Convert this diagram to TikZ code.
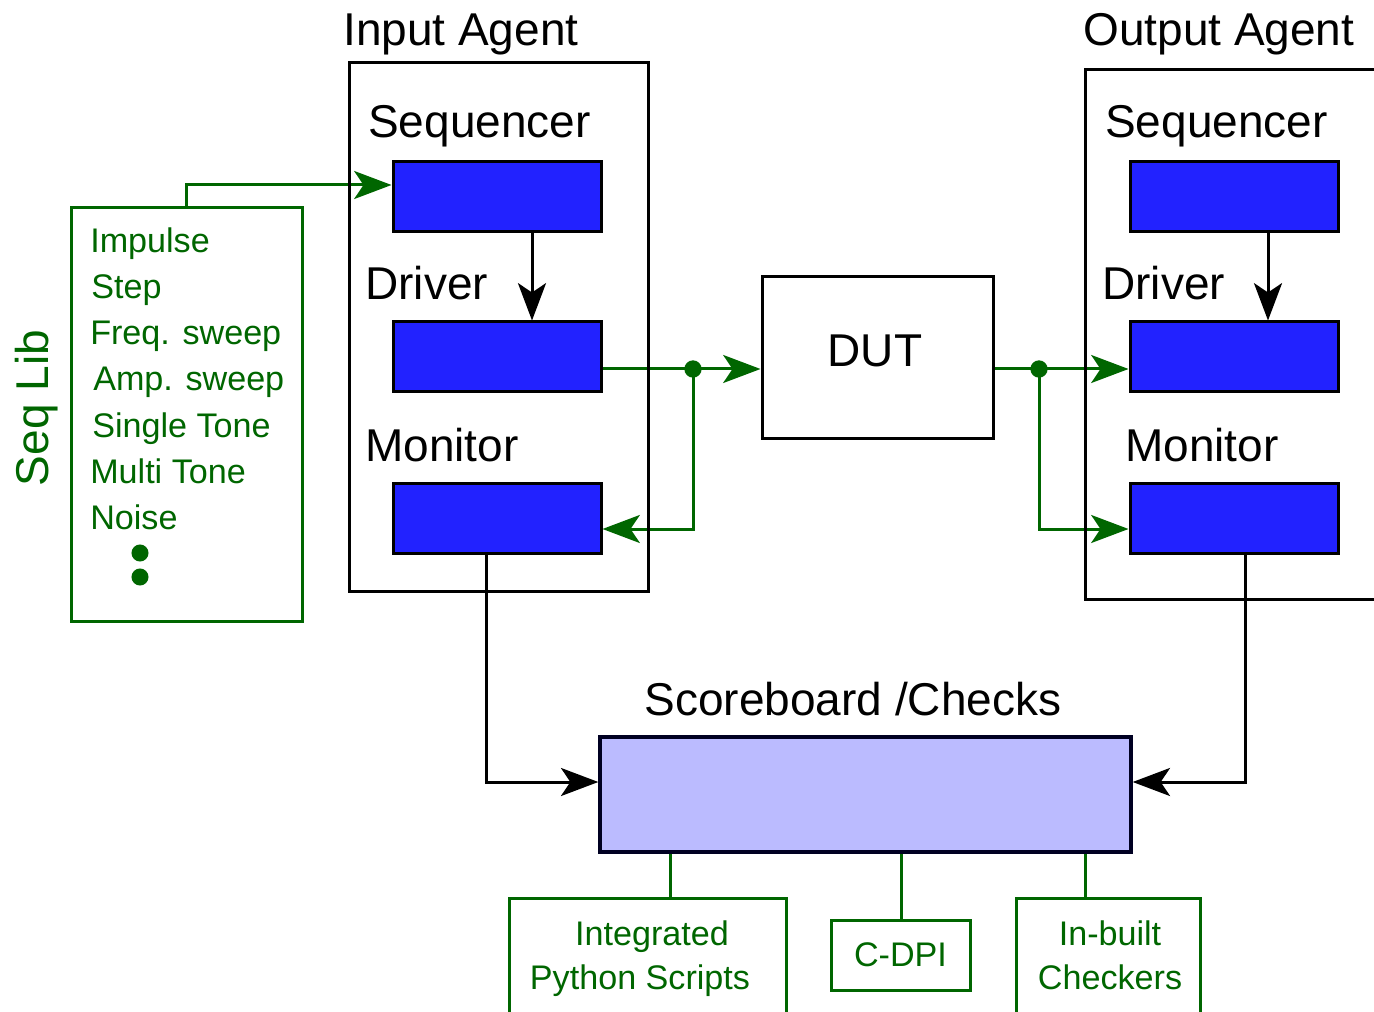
\documentclass[tikz,border=0pt]{standalone}
\usepackage{fontspec}
\setmainfont{Liberation Sans}
\usetikzlibrary{arrows.meta,backgrounds}
\definecolor{gr}{HTML}{006600}
\definecolor{bl}{HTML}{2222FF}
\definecolor{lb}{HTML}{BBBBFF}
\definecolor{nv}{HTML}{000022}
\tikzset{
  big/.style={font=\fontsize{34.5}{40}\selectfont, inner sep=0pt},
  small/.style={font=\fontsize{25.6}{30}\selectfont, inner sep=0pt},
  agentbox/.style={draw=black, line width=2.25pt, inner sep=0pt, rectangle},
  bluebox/.style={draw=black, fill=bl, line width=2.25pt, minimum width=156pt, minimum height=52.5pt, inner sep=0pt},
  greenbox/.style={draw=gr, line width=2.25pt, inner sep=0pt, rectangle},
  gline/.style={draw=gr, line width=2.25pt},
  bline/.style={draw=black, line width=2.25pt},
  tipg/.style={-{Stealth[length=28pt,width=21pt,inset=7pt]}},
  tipb/.style={-{Stealth[length=28pt,width=21pt,inset=7pt]}},
}
\begin{document}
\begin{tikzpicture}[x=0.75pt, y=-0.75pt]
\useasboundingbox (0,0) rectangle (1374,1012);
\clip (0,0) rectangle (1374,1012);

% agent frames
\node[agentbox, minimum width=224.25pt, minimum height=396pt] (inAgent) at (498.5,327) {};
\node[agentbox, minimum width=251.25pt, minimum height=396.75pt] (outAgent) at (1252.5,334.5) {};
\node[big, anchor=base west] (tIn) at (343,46) {Input Agent};
\node[big, anchor=base west] (tOut) at (1083,46) {Output Agent};

% input agent blocks
\node[bluebox] (inSeq) at (497,196.5) {};
\node[bluebox] (inDrv) at (497,357) {};
\node[bluebox] (inMon) at (497,518) {};
\node[big, anchor=base west] (lInSeq) at (368,138) {Sequencer};
\node[big, anchor=base west] (lInDrv) at (365,300) {Driver};
\node[big, anchor=base west] (lInMon) at (365,461) {Monitor};

% output agent blocks
\node[bluebox] (outSeq) at (1234,196.5) {};
\node[bluebox] (outDrv) at (1234,357) {};
\node[bluebox] (outMon) at (1234,518) {};
\node[big, anchor=base west] (lOutSeq) at (1105,138) {Sequencer};
\node[big, anchor=base west] (lOutDrv) at (1102,300) {Driver};
\node[big, anchor=base west] (lOutMon) at (1125,461) {Monitor};

% DUT
\node[agentbox, minimum width=173.25pt, minimum height=120.75pt] (dut) at (877.5,357.5) {};
\node[big, anchor=base] (tDut) at (875,367) {DUT};

% Seq Lib
\node[greenbox, minimum width=173.25pt, minimum height=309.75pt] (seqlib) at (186.5,414.5) {};
\node[big, text=gr, rotate=90, anchor=base] (tSeqLib) at (48,408) {Seq Lib};
\node[small, text=gr, anchor=base west] (i1) at (90,253) {Impulse};
\node[small, text=gr, anchor=base west] (i2) at (91,299) {Step};
\node[small, text=gr, anchor=base west] (i3) at (90,345) {Freq. sweep};
\node[small, text=gr, anchor=base west] (i4) at (93,391) {Amp. sweep};
\node[small, text=gr, anchor=base west] (i5) at (92,437) {Single Tone};
\node[small, text=gr, anchor=base west] (i6) at (90,483) {Multi Tone};
\node[small, text=gr, anchor=base west] (i7) at (90,529) {Noise};
\fill[gr] (140,553) circle (6.4pt);
\fill[gr] (140,577) circle (6.4pt);

% Scoreboard
\node[draw=nv, fill=lb, line width=2.5pt, minimum width=398.25pt, minimum height=86.25pt, inner sep=0pt] (score) at (865.5,794.5) {};
\node[big, anchor=base] (tScore) at (853,715) {Scoreboard /Checks};

% bottom boxes
\node[greenbox, minimum width=207.75pt, minimum height=99pt] (py) at (647.5,964) {};
\node[small, text=gr, anchor=base] (tPy1) at (652,945) {Integrated};
\node[small, text=gr, anchor=base] (tPy2) at (640,989) {Python Scripts};
\node[greenbox, small, text=gr, minimum width=104.25pt, minimum height=52.5pt] (cdpi) at (900.5,955) {C-DPI};
\node[greenbox, minimum width=138pt, minimum height=99pt] (chk) at (1108,964) {};
\node[small, text=gr, anchor=base] (tChk1) at (1110,945) {In-built};
\node[small, text=gr, anchor=base] (tChk2) at (1110,989) {Checkers};

% coordinates for connector bends
\coordinate (a1) at (186.5,185);
\coordinate (j1) at (693,369);
\coordinate (k1) at (693,529);
\coordinate (j2) at (1039,369);
\coordinate (k2) at (1039,529);
\coordinate (s1) at (486,782);
\coordinate (s2) at (1245,782);
\coordinate (b1) at (670,0);
\coordinate (b2) at (901,0);
\coordinate (b3) at (1085,0);

\begin{scope}[on background layer]
  \draw[gline, tipg] (seqlib.north) -- (a1) -- (a1 -| inSeq.west);
  \draw[gline] (j1 -| inDrv.east) -- (j1);
  \draw[gline, tipg] (j1) -- (j1 -| dut.west);
  \draw[gline, tipg] (j1) -- (k1) -- (k1 -| inMon.east);
  \draw[gline] (j2 -| dut.east) -- (j2);
  \draw[gline, tipg] (j2) -- (j2 -| outDrv.west);
  \draw[gline, tipg] (j2) -- (k2) -- (k2 -| outMon.west);
  \fill[gr] (j1) circle (6.5pt);
  \fill[gr] (j2) circle (6.5pt);
  \draw[bline, tipb] ([xshift=26.25pt]inSeq.south) -- ([xshift=26.25pt]inDrv.north);
  \draw[bline, tipb] ([xshift=25.5pt]outSeq.south) -- ([xshift=25.5pt]outDrv.north);
  \draw[bline, tipb] (s1 |- inMon.south) -- (s1) -- (s1 -| score.west);
  \draw[bline, tipb] (s2 |- outMon.south) -- (s2) -- (s2 -| score.east);
  \draw[gline] (b1 |- score.south) -- (b1 |- py.north);
  \draw[gline] (b2 |- score.south) -- (b2 |- cdpi.north);
  \draw[gline] (b3 |- score.south) -- (b3 |- chk.north);
\end{scope}
\end{tikzpicture}
\end{document}
